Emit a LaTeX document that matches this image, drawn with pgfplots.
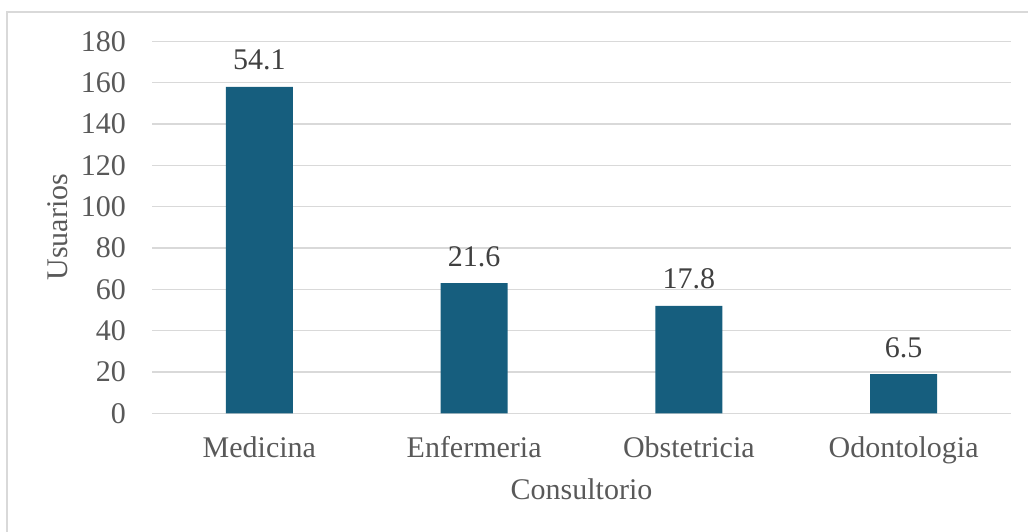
\documentclass[border=0pt]{standalone}
\usepackage{pgfplots}
\pgfplotsset{compat=1.18}
\usepackage{fontspec}
\setmainfont{Liberation Serif}
\definecolor{barcol}{RGB}{22,94,126}
\definecolor{gridgray}{RGB}{217,217,217}
\definecolor{axtext}{RGB}{89,89,89}
\definecolor{labtext}{RGB}{64,64,64}
\newcommand{\bigfont}{\fontsize{30}{36}\selectfont}
\begin{document}
\begin{tikzpicture}[x=1pt,y=1pt]
\path[use as bounding box] (0,0) rectangle (1028,532);
\draw[color=gridgray, line width=1.5pt] (7,-5)--(7,520)--(1035,520);
\begin{axis}[
  at={(152pt,118.7pt)}, anchor=south west,
  scale only axis, width=859pt, height=372pt,
  ymin=0, ymax=180, ytick={0,20,...,180},
  xmin=-0.5, xmax=3.5, xtick={0,1,2,3},
  xticklabels={Medicina,Enfermeria,Obstetricia,Odontologia},
  ybar, bar width=67pt,
  ymajorgrids, grid style={color=gridgray, line width=1.5pt},
  axis line style={draw=none}, major tick length=0pt,
  /pgf/number format/assume math mode=true,
  tick label style={font=\bigfont, color=axtext, inner sep=0pt},
  yticklabel style={anchor=east, xshift=-26pt},
  xticklabel style={anchor=base, yshift=-44.7pt},
  xlabel={Consultorio}, ylabel={Usuarios},
  label style={font=\bigfont, color=axtext, inner sep=0pt},
  xlabel style={at={(axis description cs:0.5,0)}, anchor=base, yshift=-86.7pt},
  ylabel style={at={(axis description cs:-0.09779,0.5)}, anchor=base, rotate=0},
  nodes near coords, point meta=explicit symbolic,
  every node near coord/.append style={font=\bigfont, color=labtext, anchor=base, inner sep=0pt, yshift=17pt},
]
\addplot[fill=barcol, draw=none] table[x=x, y=y, meta=lab] {
x y lab
0 158 54.1
1 63 21.6
2 52 17.8
3 19 6.5
};
\end{axis}
\end{tikzpicture}
\end{document}
